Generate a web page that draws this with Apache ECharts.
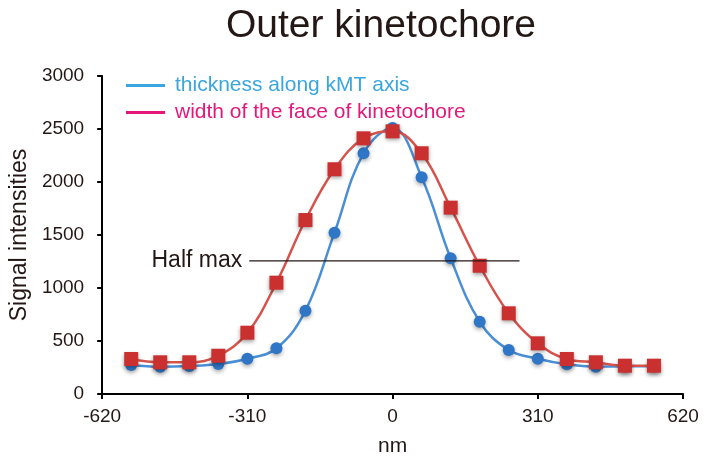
<!DOCTYPE html>
<html>
<head>
<meta charset="utf-8">
<script src="https://cdn.jsdelivr.net/npm/echarts@6/dist/echarts.min.js"></script>
<style>
html,body{margin:0;padding:0;background:#fff;}
#chart{width:705px;height:462px;}
</style>
</head>
<body>
<div id="chart"></div>
<script>
// Data
var positionsNm = [-558, -496, -434, -372, -310, -248, -186, -124, -62, 0, 62, 124, 186, 248, 310, 372, 434, 496, 558];
var thicknessAlongKMT = [274, 257, 264, 283, 333, 431, 786, 1522, 2271, 2510, 2044, 1280, 682, 415, 333, 280, 258, 260, 262];
var widthOfFace = [330, 299, 299, 361, 578, 1050, 1641, 2120, 2412, 2478, 2271, 1758, 1210, 761, 478, 330, 299, 267, 267];
var halfMaxX = [-306, 271];
var halfMaxY = [1255, 1255];
var seriesNames = ['thickness along kMT axis', 'width of the face of kinetochore'];

function pairs(xs, ys) { return xs.map(function (x, i) { return [x, ys[i]]; }); }

var FONT = '"Liberation Sans", Arial, Helvetica, sans-serif';
var TXT = '#231815';

var chart = echarts.init(document.getElementById('chart'), null, {renderer: 'canvas'});
chart.setOption({
  backgroundColor: '#ffffff',
  animation: false,
  title: {
    text: 'Outer kinetochore',
    left: 221, top: 2,
    textStyle: {fontFamily: FONT, fontSize: 39, fontWeight: 'normal', color: TXT}
  },
  legend: {
    orient: 'vertical',
    left: 126, top: 75,
    itemWidth: 39, itemHeight: 3, itemGap: 6,
    icon: 'rect',
    padding: 0,
    textStyle: {fontFamily: FONT, fontSize: 21, padding: [0, 0, 0, 5]},
    data: [
      {name: seriesNames[0], itemStyle: {color: '#3aa6e0'}, textStyle: {color: '#3aa6e0'}},
      {name: seriesNames[1], itemStyle: {color: '#e3187a'}, textStyle: {color: '#e3187a'}}
    ]
  },
  grid: {left: 102, right: 22, top: 76, bottom: 68, containLabel: false},
  xAxis: {
    type: 'value', min: -620, max: 620, interval: 310,
    name: 'nm', nameLocation: 'middle', nameGap: 42,
    nameTextStyle: {fontFamily: FONT, fontSize: 21, color: TXT},
    axisLine: {show: true, onZero: false, lineStyle: {color: '#000', width: 2}},
    axisTick: {show: true, inside: false, length: 5, lineStyle: {color: '#000', width: 2}},
    axisLabel: {fontFamily: FONT, fontSize: 19, color: TXT, margin: 13},
    splitLine: {show: false}
  },
  yAxis: {
    type: 'value', min: 0, max: 3000, interval: 500,
    name: 'Signal intensities', nameLocation: 'middle', nameGap: 61, nameRotate: 90,
    nameTextStyle: {fontFamily: FONT, fontSize: 23, color: TXT},
    axisLine: {show: true, onZero: false, lineStyle: {color: '#000', width: 2}},
    axisTick: {show: true, inside: false, length: 5, lineStyle: {color: '#000', width: 2}},
    axisLabel: {fontFamily: FONT, fontSize: 19, color: TXT, margin: 18,
                formatter: function (v) { return String(v); }},
    splitLine: {show: false}
  },
  series: [
    {
      name: seriesNames[0], type: 'line', smooth: 0.4,
      data: pairs(positionsNm, thicknessAlongKMT),
      symbol: 'circle', symbolSize: 12,
      lineStyle: {color: '#4a8fd5', width: 2.5},
      itemStyle: {color: '#2f76c6', shadowBlur: 4, shadowColor: 'rgba(0,0,0,0.35)', shadowOffsetY: 2},
      z: 2
    },
    {
      name: seriesNames[1], type: 'line', smooth: 0.4,
      data: pairs(positionsNm, widthOfFace),
      symbol: 'rect', symbolSize: 14,
      lineStyle: {color: '#d6534d', width: 2.5},
      itemStyle: {color: '#c9302f', shadowBlur: 4, shadowColor: 'rgba(0,0,0,0.35)', shadowOffsetY: 2},
      z: 3
    },
    {
      name: 'Half max', type: 'line',
      data: pairs(halfMaxX, halfMaxY),
      symbol: 'none', silent: true,
      lineStyle: {color: '#231815', width: 1.3},
      markPoint: {
        symbol: 'circle', symbolSize: 0,
        data: [{coord: [halfMaxX[0], halfMaxY[0]]}],
        label: {show: true, formatter: 'Half max', position: 'left', distance: 7,
                fontFamily: FONT, fontSize: 23, color: TXT}
      },
      z: 4
    }
  ]
});
</script>
</body>
</html>
